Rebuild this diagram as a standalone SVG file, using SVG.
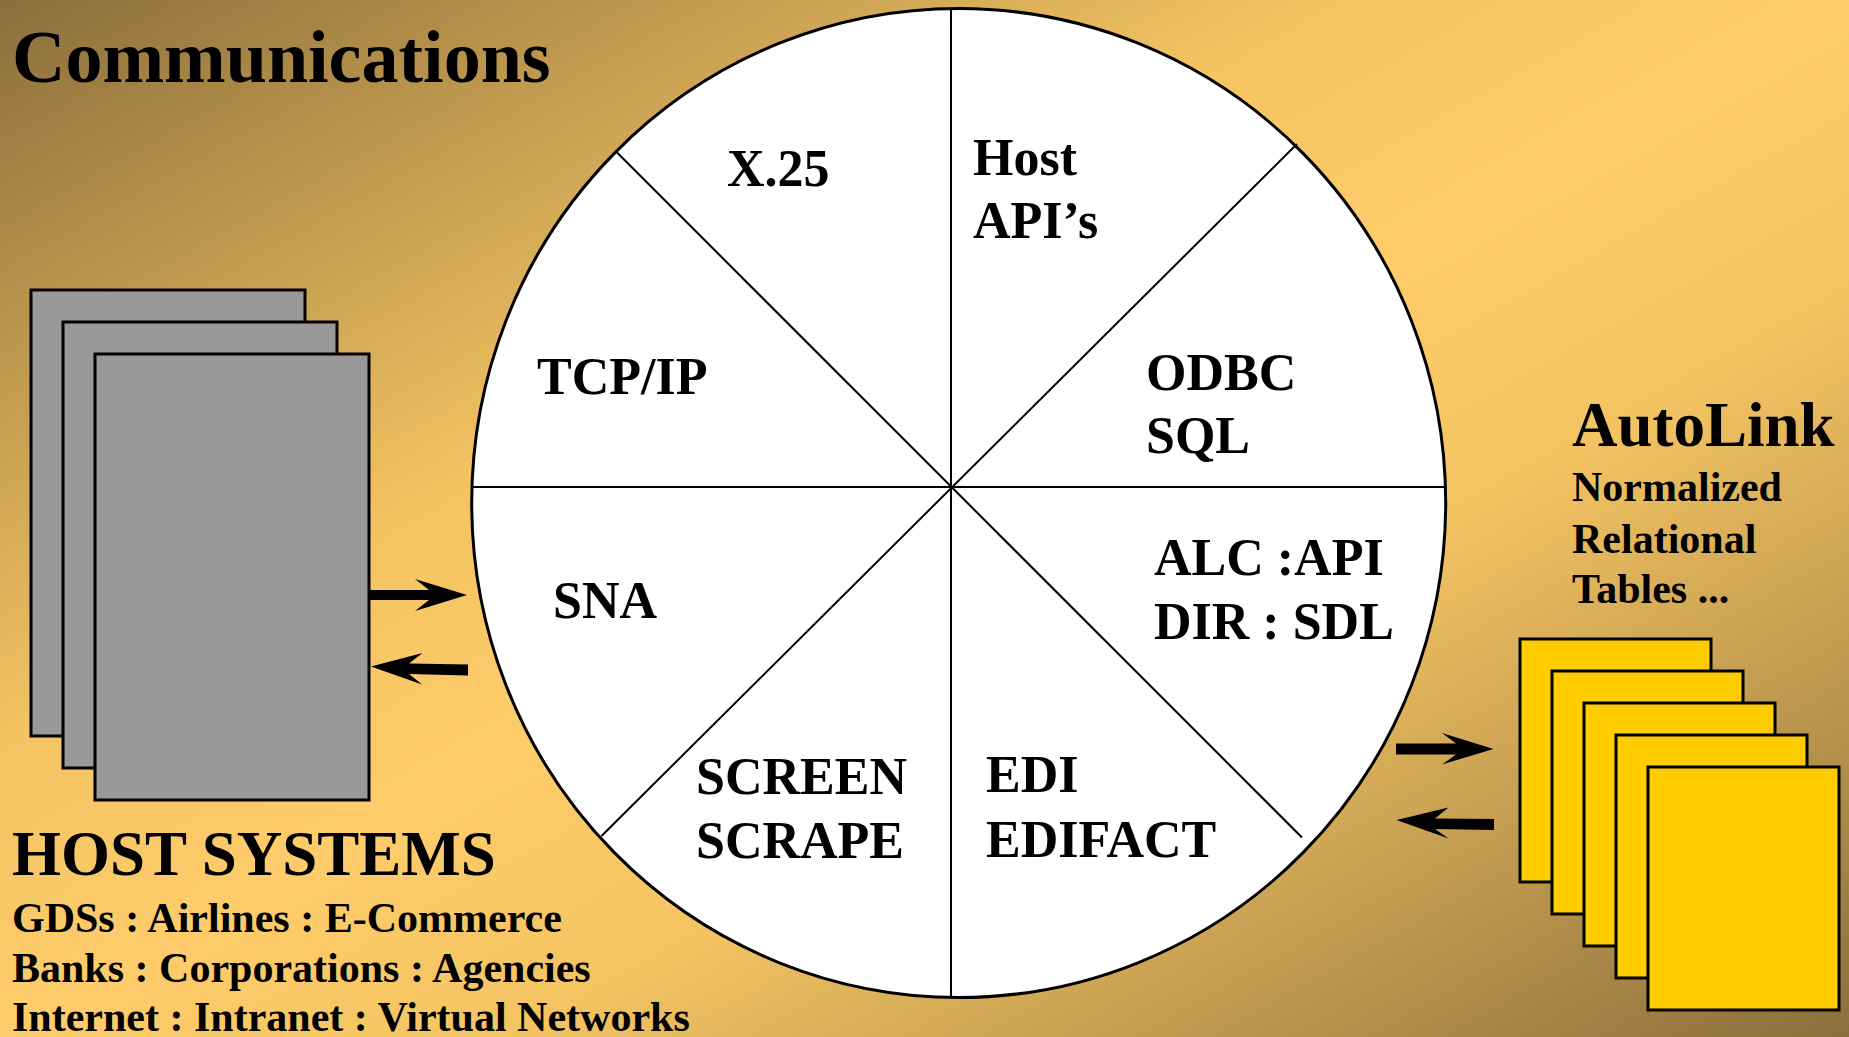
<svg xmlns="http://www.w3.org/2000/svg" width="1849" height="1037" viewBox="0 0 1849 1037">
  <defs>
    <linearGradient id="bg" x1="0" y1="0" x2="1" y2="1">
      <stop offset="0" stop-color="#8A6E3C"/>
      <stop offset="0.36" stop-color="#F4C462"/>
      <stop offset="0.5" stop-color="#FECC6A"/>
      <stop offset="0.64" stop-color="#F4C462"/>
      <stop offset="1" stop-color="#8A6E3C"/>
    </linearGradient>
  </defs>
  <style>
    text { font-weight: bold; fill: #000; }
    .big { font-size: 74px; }
    .head { font-size: 63px; }
    .lbl { font-size: 52px; }
    .sub { font-size: 42px; }
    .host { fill: #999999; stroke: #000; stroke-width: 3; }
    .table { fill: #FFCC00; stroke: #000; stroke-width: 3; }
    .pie-line { stroke: #000; stroke-width: 2; fill: none; }
    .arrow { fill: #000; stroke: none; }
  </style>

  <rect x="0" y="0" width="1849" height="1037" fill="url(#bg)"/>

  <g font-family="'Liberation Serif', 'Times New Roman', 'DejaVu Serif', serif">
  <g id="title">
    <text class="big" x="12" y="82">Communications</text>
  </g>

  <g id="pie">
    <ellipse cx="958.7" cy="503" rx="487" ry="494.5" fill="#FFFFFF" stroke="#000" stroke-width="3"/>
    <line class="pie-line" x1="951" y1="9" x2="951" y2="997"/>
    <line class="pie-line" x1="472" y1="487" x2="1445" y2="487" stroke-width="3"/>
    <line class="pie-line" x1="616" y1="151.5" x2="1302" y2="837.5"/>
    <line class="pie-line" x1="1297" y1="144" x2="601.5" y2="836"/>
  </g>

  <g id="seg-x25"><text class="lbl" x="727" y="186">X.25</text></g>
  <g id="seg-hostapi"><text class="lbl" x="973" y="175">Host</text><text class="lbl" x="973" y="238">API’s</text></g>
  <g id="seg-odbc"><text class="lbl" x="1146" y="390">ODBC</text><text class="lbl" x="1146" y="453">SQL</text></g>
  <g id="seg-tcpip"><text class="lbl" x="537" y="394">TCP/IP</text></g>
  <g id="seg-sna"><text class="lbl" x="553" y="618">SNA</text></g>
  <g id="seg-alc"><text class="lbl" x="1154" y="575">ALC :API</text><text class="lbl" x="1154" y="639">DIR : SDL</text></g>
  <g id="seg-screen"><text class="lbl" x="696" y="794">SCREEN</text><text class="lbl" x="696" y="858">SCRAPE</text></g>
  <g id="seg-edi"><text class="lbl" x="986" y="792">EDI</text><text class="lbl" x="986" y="857">EDIFACT</text></g>

  <g id="host-systems">
    <rect class="host" x="31" y="290" width="274" height="446"/>
    <rect class="host" x="63" y="322" width="274" height="446"/>
    <rect class="host" x="95" y="354" width="274" height="446"/>
    <text class="head" x="12" y="875">HOST SYSTEMS</text>
    <text class="sub" x="12" y="932">GDSs : Airlines : E-Commerce</text>
    <text class="sub" x="12" y="982">Banks : Corporations : Agencies</text>
    <text class="sub" x="12" y="1031">Internet : Intranet : Virtual Networks</text>
  </g>

  <g id="autolink">
    <rect class="table" x="1520" y="639" width="191" height="243"/>
    <rect class="table" x="1552" y="671" width="191" height="243"/>
    <rect class="table" x="1584" y="703" width="191" height="243"/>
    <rect class="table" x="1616" y="735" width="191" height="243"/>
    <rect class="table" x="1648" y="767" width="191" height="243"/>
    <text class="head" x="1572" y="446">AutoLink</text>
    <text class="sub" x="1572" y="501">Normalized</text>
    <text class="sub" x="1572" y="553">Relational</text>
    <text class="sub" x="1572" y="603">Tables ...</text>
  </g>
  </g>

  <g id="connectors">
    <polygon class="arrow" points="369,590 429,590 415,579 467,595 415,611 429,600 369,600"/>
    <polygon class="arrow" points="468,664.5 409,663.5 422.5,653 371,666.5 422,684.5 409,674 468,675.5"/>
    <polygon class="arrow" points="1396,743.5 1456,743.5 1442,733 1493.5,749 1442,764.5 1456,754.5 1396,754.5"/>
    <polygon class="arrow" points="1494,819 1435,818.5 1448.5,807.5 1396.5,820 1448.5,838.5 1435,829 1494,830"/>
  </g>
</svg>
